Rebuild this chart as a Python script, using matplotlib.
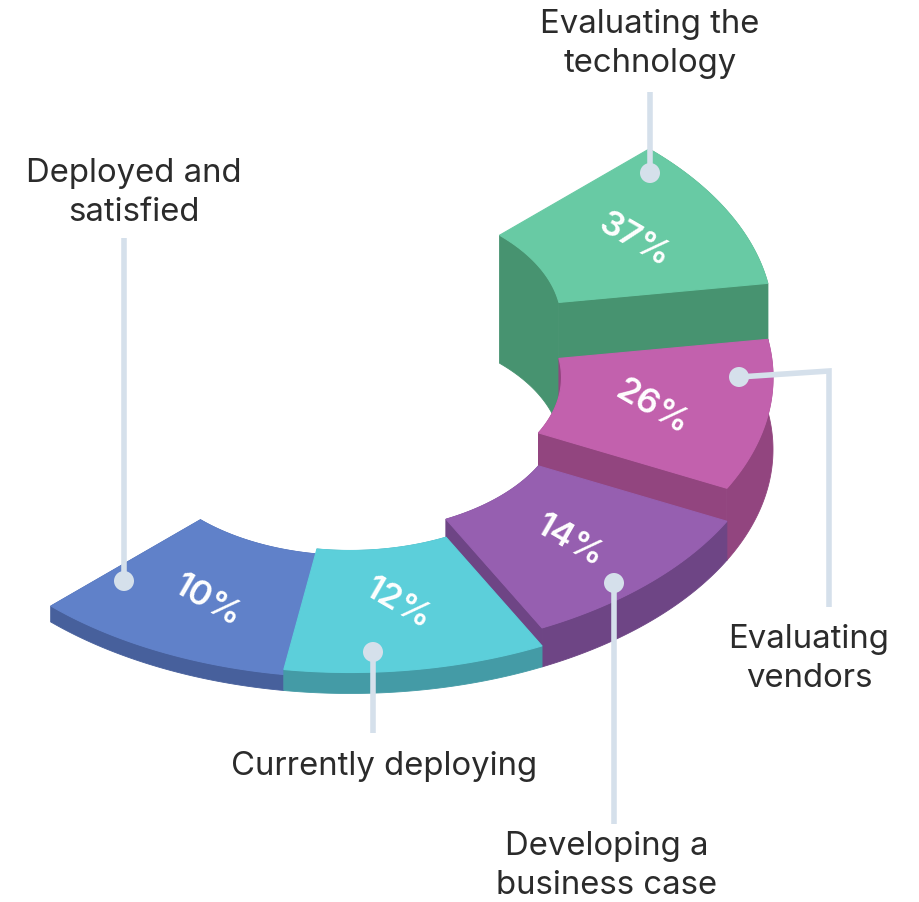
import numpy as np
import matplotlib
matplotlib.use('Agg')
import matplotlib.pyplot as plt
from matplotlib.patches import Circle, Polygon

# data
categories = ['Evaluating the\ntechnology', 'Evaluating\nvendors', 'Developing a\nbusiness case',
              'Currently deploying', 'Deployed and\nsatisfied']
shares = [37, 26, 14, 12, 10]
extrusion = [128, 72, 39, 21, 16]

top_colors = ['#68CAA4', '#C261AD', '#965FB0', '#5CCFDA', '#6081C9']
side_colors = ['#479370', '#92457F', '#6E4585', '#449BA6', '#47609C']

# ellipse of the isometric ring, in pixels
CX, CY = 350, 449.5
A, B = 423, 244
HOLE = 0.5
START = -45
SPAN = 36

LINE = '#D5E0EB'
INK = '#2B2B2B'


def arc(t0, t1, r, lift=0):
    t = np.radians(np.linspace(t0, t1, 80))
    return np.column_stack((CX + r * A * np.cos(t), CY + r * B * np.sin(t) - lift))


def drawWedge(ax, i):
    t0 = START + SPAN * i
    t1 = t0 + SPAN
    lift = extrusion[i]
    outerTop, outerBase = arc(t0, t1, 1, lift), arc(t0, t1, 1)
    innerTop, innerBase = arc(t0, t1, HOLE, lift), arc(t0, t1, HOLE)
    side = side_colors[i]
    ax.add_patch(Polygon(np.vstack((outerTop, outerBase[::-1])), fc=side, ec=side, lw=0.6))
    ax.add_patch(Polygon(np.vstack((innerTop, innerBase[::-1])), fc=side, ec=side, lw=0.6))
    # radial face on the front end, teal has none showing
    if i != 3:
        face = [innerTop[-1], outerTop[-1], outerBase[-1], innerBase[-1]]
        ax.add_patch(Polygon(face, fc=side, ec=side, lw=0.6))
    ax.add_patch(Polygon(np.vstack((outerTop, innerTop[::-1])), fc=top_colors[i], ec=top_colors[i], lw=0.8))


fig = plt.figure(figsize=(9.19, 9.02), dpi=100)
ax = fig.add_axes([0, 0, 1, 1])
ax.set_xlim(0, 919)
ax.set_ylim(902, 0)
ax.axis('off')

# back to front, blue goes under the teal edge
for i in [0, 1, 2, 4, 3]:
    drawWedge(ax, i)

# callouts: leader path, first point is the dot
leaders = [[(650, 173), (650, 92)],
           [(739, 377), (829, 371), (829, 607)],
           [(614, 583), (614, 824)],
           [(373, 652), (373, 733)],
           [(124, 581), (124, 238)]]
for path in leaders:
    xs, ys = zip(*path)
    ax.plot(xs, ys, color=LINE, lw=4.0, solid_joinstyle='miter', solid_capstyle='butt', zorder=5)
    ax.add_patch(Circle(path[0], 10, fc=LINE, ec='none', zorder=6))

label_pos = [(650, 44), (809, 659), (607, 866), (384, 767), (134, 193)]
for name, (x, y) in zip(categories, label_pos):
    ax.text(x, y, name, ha='center', va='center', fontsize=23.7, family='Inter', fontweight='normal',
            color=INK, linespacing=1.3, zorder=7)

pct_pos = [(634, 240), (652, 408), (569, 541), (398, 604), (207, 601)]
for s, (x, y) in zip(shares, pct_pos):
    ax.text(x, y, '%d%%' % s, ha='center', va='center', fontsize=25, family='Inter', fontweight='semibold',
            color='white', rotation=-30, rotation_mode='anchor', zorder=7)

fig.savefig('out.png', dpi=100)
